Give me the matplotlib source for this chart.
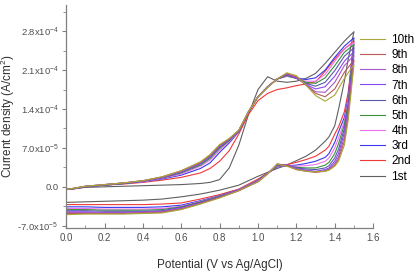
import numpy as np
import matplotlib
matplotlib.use('Agg')
from matplotlib import pyplot as plt
from matplotlib import ticker as mticker

plt.rcParams['font.family'] = ['Liberation Sans', 'DejaVu Sans']
plt.rcParams['mathtext.fontset'] = 'custom'
plt.rcParams['mathtext.rm'] = 'Liberation Sans'

# potentials (V vs Ag/AgCl) for anodic and cathodic sweeps
v_fwd = [0.0, 0.05, 0.1, 0.2, 0.3, 0.4, 0.5, 0.6, 0.7, 0.75, 0.8, 0.85, 0.9,
         0.95, 1.0, 1.05, 1.1, 1.15, 1.2, 1.25, 1.3, 1.35, 1.4, 1.45, 1.5]
v_rev = [1.5, 1.47, 1.45, 1.42, 1.4, 1.37, 1.35, 1.3, 1.25, 1.2, 1.15, 1.1,
         1.05, 1.0, 0.9, 0.8, 0.7, 0.6, 0.5, 0.4, 0.3, 0.2, 0.1, 0.0]

# current density, units of 1e-5 A/cm2
fwd = {
    '1st':  [-0.4, -0.3, -0.1, 0.0, 0.1, 0.2, 0.3, 0.4, 0.6, 0.8, 1.3, 3.4, 7.5,
             13.0, 17.5, 19.8, 19.0, 18.8, 19.0, 19.5, 20.4, 22.2, 24.2, 26.2, 27.9],
    '2nd':  [-0.5, -0.3, 0.0, 0.3, 0.5, 0.8, 1.2, 1.7, 2.5, 3.3, 4.6, 6.5, 9.5,
             13.0, 15.5, 16.8, 17.5, 17.8, 18.2, 18.5, 18.9, 20.8, 23.0, 24.8, 26.2],
    '3rd':  [-0.5, -0.3, 0.0, 0.3, 0.6, 0.9, 1.4, 2.1, 3.3, 4.3, 6.2, 7.9, 9.9,
             13.4, 16.2, 18.0, 19.4, 19.9, 19.6, 19.3, 19.6, 21.0, 23.3, 25.3, 26.8],
    '4th':  [-0.5, -0.3, 0.0, 0.3, 0.6, 0.9, 1.5, 2.3, 3.7, 4.8, 6.6, 8.1, 10.0,
             13.4, 16.2, 18.0, 19.4, 19.9, 19.5, 19.0, 19.0, 20.2, 22.6, 24.8, 26.0],
    '5th':  [-0.5, -0.3, 0.0, 0.3, 0.6, 1.0, 1.6, 2.5, 3.9, 5.1, 6.9, 8.3, 10.0,
             13.4, 16.2, 18.0, 19.4, 20.0, 19.5, 18.8, 18.6, 19.6, 21.8, 24.2, 25.6],
    '6th':  [-0.5, -0.3, 0.0, 0.3, 0.6, 1.0, 1.6, 2.6, 4.1, 5.3, 7.1, 8.4, 10.0,
             13.5, 16.2, 18.0, 19.4, 20.1, 19.5, 18.6, 18.1, 18.8, 20.9, 23.5, 25.0],
    '7th':  [-0.5, -0.2, 0.1, 0.4, 0.7, 1.0, 1.7, 2.7, 4.2, 5.5, 7.3, 8.5, 10.1,
             13.5, 16.2, 17.9, 19.4, 20.2, 19.6, 18.4, 17.6, 18.0, 19.9, 22.6, 24.3],
    '8th':  [-0.5, -0.2, 0.1, 0.4, 0.7, 1.1, 1.7, 2.8, 4.3, 5.6, 7.4, 8.6, 10.1,
             13.5, 16.2, 17.9, 19.4, 20.3, 19.7, 18.3, 17.1, 17.0, 18.8, 21.8, 23.6],
    '9th':  [-0.5, -0.2, 0.1, 0.4, 0.7, 1.1, 1.8, 2.9, 4.4, 5.7, 7.5, 8.6, 10.2,
             13.5, 16.2, 17.9, 19.4, 20.4, 19.8, 18.3, 16.8, 16.2, 17.6, 20.6, 22.8],
    '10th': [-0.5, -0.2, 0.1, 0.4, 0.7, 1.1, 1.8, 2.9, 4.5, 5.8, 7.6, 8.7, 10.2,
             13.5, 16.2, 17.9, 19.4, 20.5, 20.0, 18.3, 16.4, 15.4, 16.5, 19.5, 22.0],
}
rev = {
    '1st':  [27.9, 23.0, 19.0, 14.0, 11.0, 9.0, 8.2, 6.6, 5.5, 4.7, 3.9, 3.3,
             2.6, 1.9, 0.3, -0.6, -1.3, -1.8, -2.2, -2.4, -2.5, -2.6, -2.7, -2.8],
    '2nd':  [26.2, 17.0, 13.5, 10.8, 9.5, 7.3, 6.6, 5.5, 4.9, 4.4, 4.0, 3.6,
             2.5, 1.4, -0.4, -1.4, -2.2, -2.9, -3.1, -3.2, -3.2, -3.2, -3.2, -3.2],
    '3rd':  [26.8, 16.0, 12.5, 9.9, 8.0, 6.0, 5.3, 4.6, 4.2, 3.9, 3.8, 3.6,
             2.4, 1.2, -0.5, -1.6, -2.5, -3.3, -3.6, -3.7, -3.7, -3.7, -3.6, -3.6],
    '4th':  [26.0, 15.5, 11.8, 8.8, 7.0, 5.2, 4.6, 4.0, 3.8, 3.7, 3.8, 3.7,
             2.4, 1.2, -0.5, -1.7, -2.6, -3.5, -3.9, -4.0, -4.0, -4.0, -3.9, -3.9],
    '5th':  [25.6, 15.0, 11.2, 7.8, 6.0, 4.4, 3.9, 3.4, 3.4, 3.5, 3.8, 3.8,
             2.4, 1.1, -0.6, -1.7, -2.7, -3.6, -4.1, -4.2, -4.2, -4.2, -4.1, -4.1],
    '6th':  [25.0, 14.5, 10.5, 6.8, 5.2, 3.8, 3.4, 3.1, 3.2, 3.4, 3.9, 3.9,
             2.4, 1.1, -0.6, -1.8, -2.8, -3.7, -4.3, -4.4, -4.4, -4.4, -4.3, -4.3],
    '7th':  [24.3, 14.0, 9.8, 6.0, 4.6, 3.4, 3.1, 2.8, 3.0, 3.3, 3.9, 4.0,
             2.4, 1.0, -0.6, -1.8, -2.9, -3.8, -4.4, -4.5, -4.6, -4.6, -4.5, -4.5],
    '8th':  [23.6, 13.5, 9.0, 5.4, 4.2, 3.2, 2.9, 2.7, 2.9, 3.2, 3.9, 4.1,
             2.4, 1.0, -0.7, -1.9, -3.0, -3.9, -4.5, -4.6, -4.7, -4.7, -4.6, -4.6],
    '9th':  [22.8, 12.8, 8.2, 5.0, 3.9, 3.1, 2.8, 2.6, 2.8, 3.1, 3.8, 4.1,
             2.3, 0.9, -0.7, -1.9, -3.0, -4.0, -4.6, -4.7, -4.8, -4.8, -4.8, -4.8],
    '10th': [22.0, 12.0, 7.5, 4.6, 3.7, 3.0, 2.8, 2.7, 2.8, 3.1, 3.7, 4.1,
             2.3, 0.9, -0.7, -2.0, -3.1, -4.1, -4.7, -4.8, -4.9, -4.9, -4.9, -5.0],
}
cycles = ['10th', '9th', '8th', '7th', '6th', '5th', '4th', '3rd', '2nd', '1st']
colors = {'10th': '#a8a838', '9th': '#b85a5a', '8th': '#a858c8', '7th': '#8848f0',
          '6th': '#5858a8', '5th': '#389038', '4th': '#f070f0', '3rd': '#3838f0',
          '2nd': '#f03838', '1st': '#606060'}

fig = plt.figure(figsize=(4.16, 2.78), dpi=100, facecolor='white')
ax = fig.add_axes([0.159, 0.180, 0.738, 0.802])

lines = {}
for c in cycles[::-1]:
    x = np.array(v_fwd + v_rev)
    y = np.array(fwd[c] + rev[c]) * 1e-5
    lines[c], = ax.plot(x, y, color=colors[c], lw=0.8)

ax.set_xlim(0.0, 1.6)
ax.set_ylim(-7.4e-5, 3.27e-4)
ax.xaxis.set_major_locator(mticker.MultipleLocator(0.2))
ax.xaxis.set_minor_locator(mticker.MultipleLocator(0.1))
ax.yaxis.set_major_locator(mticker.FixedLocator([-7e-5, 0, 7e-5, 1.4e-4, 2.1e-4, 2.8e-4]))
ax.yaxis.set_minor_locator(mticker.MultipleLocator(3.5e-5))
ax.xaxis.set_major_formatter(mticker.FormatStrFormatter('%.1f'))

def sci(v, pos):
    if abs(v) < 1e-12:
        return '0.0'
    e = int(np.floor(np.log10(abs(v))))
    return '%.1fx10$^{%d}$' % (v / 10 ** e, e)

ax.yaxis.set_major_formatter(mticker.FuncFormatter(sci))

for s in ['top', 'right']:
    ax.spines[s].set_visible(False)
for s in ['left', 'bottom']:
    ax.spines[s].set_color('#808080')
    ax.spines[s].set_linewidth(0.9)
ax.tick_params(axis='x', which='both', direction='in', colors='#808080',
               labelcolor='#505050', labelsize=7)
ax.tick_params(axis='x', which='major', length=3.5)
ax.tick_params(axis='x', which='minor', length=2)
ax.tick_params(axis='y', which='both', direction='out', colors='#808080',
               labelcolor='#505050', labelsize=6.8, pad=2.5)
ax.tick_params(axis='y', which='major', length=3)
ax.tick_params(axis='y', which='minor', length=2)

ax.set_xlabel('Potential (V vs Ag/AgCl)', fontsize=8.5, color='#303030')
ax.xaxis.set_label_coords(0.5, -0.137)
ax.set_ylabel('Current density (A/cm$^2$)', fontsize=8.5, color='#303030')
ax.yaxis.set_label_coords(-0.16, 0.5)

# legend placed in figure pixels: lines 360-385 px, text from ~392 px
fig.legend([lines[c] for c in cycles], cycles,
           loc='upper left', bbox_to_anchor=(360 / 416, 1 - 34 / 278),
           bbox_transform=fig.transFigure, frameon=False,
           fontsize=8.5, handlelength=2.1, labelspacing=0.27, handletextpad=0.55,
           borderaxespad=0, borderpad=0)

fig.savefig('out.png', dpi=100, facecolor='white')
